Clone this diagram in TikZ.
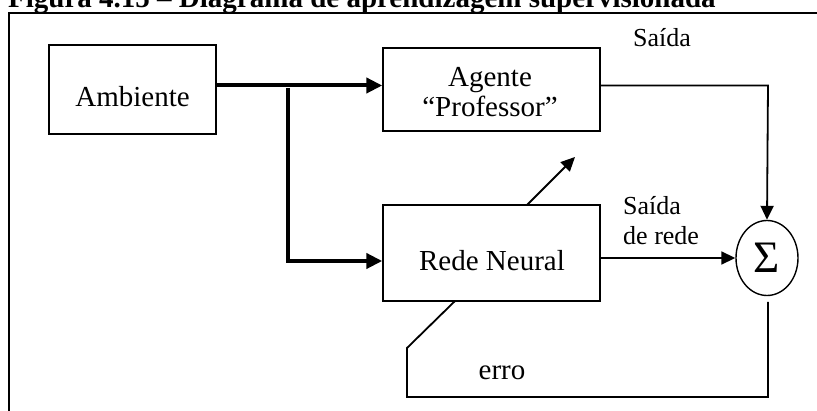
\documentclass[tikz,border=0pt]{standalone}
\usepackage{fontspec}
\setmainfont{Liberation Serif}
\usetikzlibrary{arrows.meta,shapes.geometric}

\tikzset{
  blockbox/.style={draw, line width=1.4pt, inner sep=0pt, rectangle},
  boxtext/.style={inner sep=0pt, anchor=base, font=\fontsize{29}{33}\selectfont},
  smalltext/.style={inner sep=0pt, anchor=base, font=\fontsize{26}{30}\selectfont},
  thickflow/.style={line width=4pt, -{Triangle[length=16pt,width=15pt]}},
  thinflow/.style={line width=1.8pt, -{Triangle[length=14pt,width=13pt]}},
  plainline/.style={line width=1.8pt},
}

\begin{document}
\begin{tikzpicture}[x=1pt,y=-1pt]
  \clip (0,0) rectangle (817,411);
  \useasboundingbox (0,0) rectangle (817,411);

  % heading, partly cut by the page edge
  \node[inner sep=0pt, anchor=base west, font=\bfseries\fontsize{29}{33}\selectfont]
    (title) at (8,8) {Figura 4.15 – Diagrama de aprendizagem supervisionada};

  % frame
  \draw[line width=2pt] (9,411) -- (9,13) -- (817,13);

  % blocks
  \node[blockbox, minimum width=167pt, minimum height=89pt] (amb) at (132.5,89.5) {};
  \node[blockbox, minimum width=217pt, minimum height=83pt] (ag)  at (491.5,89.5) {};
  \node[blockbox, minimum width=217pt, minimum height=96pt] (rn)  at (491.5,253) {};
  \node[draw, ellipse, line width=1.4pt, inner sep=0pt,
        minimum width=62pt, minimum height=75pt,
        font=\fontsize{45}{45}\selectfont] (sig) at (767,258) {Σ};

  % block texts
  \node[boxtext] (ambt) at (132.5,107) {Ambiente};
  \node[boxtext] (agt1) at (490,87) {Agente};
  \node[boxtext] (agt2) at (490,117) {“Professor”};
  \node[boxtext] (rnt)  at (492,271) {Rede Neural};

  % labels
  \node[smalltext] (lsa)  at (662,47) {Saída};
  \node[smalltext, anchor=base west] (lsr1) at (623,215) {Saída};
  \node[smalltext, anchor=base west] (lsr2) at (623,245) {de rede};
  \node[boxtext] (lerr) at (502,380) {erro};

  % routing points
  \coordinate (split) at (288,88);
  \coordinate (splitlow) at (288,261);
  \coordinate (outcorner) at (768,85.5);
  \coordinate (errtop) at (768,302);
  \coordinate (errbr) at (768,397);
  \coordinate (errbl) at (407,397);
  \coordinate (errup) at (407,348);
  \coordinate (errend) at (455,301);
  \coordinate (teach) at (575,157);
  \coordinate (rnout) at (527,205);

  % environment to teacher and network
  \draw[thickflow] ([yshift=4pt]amb.east) -- ([yshift=4pt]ag.west);
  \draw[thickflow] (split) -- (splitlow) -- (splitlow -| rn.west);

  % teacher output to the summing junction
  \draw[thinflow] ([yshift=4pt]ag.east) -- (outcorner) -- (sig.north);

  % network output to the summing junction
  \draw[thinflow] (rn.east |- sig.west) -- (sig.west);

  % adaptation arrow
  \draw[thinflow] (rnout) -- (teach);

  % error feedback loop
  \draw[plainline] (errtop) -- (errbr) -- (errbl) -- (errup) -- (errend);
\end{tikzpicture}
\end{document}
